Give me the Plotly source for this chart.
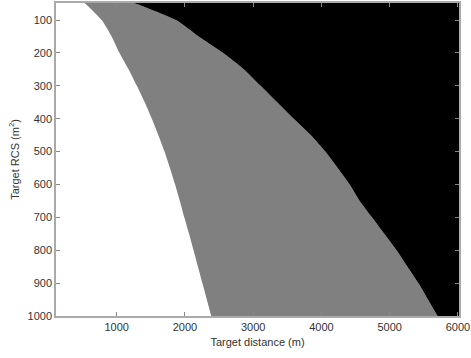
import plotly.graph_objects as go

# Target RCS values (m^2) at which the region boundaries were read
rcs = [50, 100, 150, 200, 250, 300, 350, 400, 450, 500, 550, 600,
       650, 700, 750, 800, 850, 900, 950, 1000]
# Distance (m) where white region ends (white -> gray)
white_edge = [540, 780, 925, 1040, 1175, 1295, 1410, 1515, 1610, 1700, 1780, 1855,
              1925, 1990, 2060, 2125, 2190, 2255, 2320, 2385]
# Distance (m) where gray region ends (gray -> black)
gray_edge = [1280, 1870, 2200, 2560, 2865, 3108, 3350, 3593, 3846, 4056, 4238, 4413,
             4560, 4740, 4920, 5100, 5260, 5420, 5560, 5700]

x_min, x_max = 110, 6015
y_top, y_bot = 48, 1000

fig = go.Figure()

# gray region: between white edge and gray edge
gx = [white_edge[0] - 20] + white_edge + [white_edge[-1], gray_edge[-1]] + gray_edge[::-1] + [gray_edge[0] - 40]
gy = [y_top] + rcs + [y_bot, y_bot] + rcs[::-1] + [y_top]
fig.add_trace(go.Scatter(x=gx, y=gy, fill="toself", fillcolor="#808080",
                         line=dict(width=0, color="#808080", shape="spline", smoothing=0.6),
                         mode="lines", hoverinfo="skip", showlegend=False))

# black region: right of gray edge
bx = [gray_edge[0] - 40] + gray_edge + [gray_edge[-1], x_max + 50, x_max + 50]
by = [y_top] + rcs + [y_bot, y_bot, y_top]
fig.add_trace(go.Scatter(x=bx, y=by, fill="toself", fillcolor="#000000",
                         line=dict(width=0, color="#000000", shape="spline", smoothing=0.6),
                         mode="lines", hoverinfo="skip", showlegend=False))

axis_font = dict(family="Liberation Sans, Arial, sans-serif", size=11, color="#333333")

fig.update_layout(
    width=471, height=358,
    margin=dict(l=56, r=12, t=1, b=42),
    paper_bgcolor="white", plot_bgcolor="white",
    font=axis_font,
    xaxis=dict(range=[x_min, x_max], tickvals=[1000, 2000, 3000, 4000, 5000, 6000],
               ticks="inside", ticklen=4, tickcolor="#888888",
               showline=True, linecolor="#aaaaaa", linewidth=1.5, mirror="ticks",
               showgrid=False, zeroline=False,
               title=dict(text="Target distance (m)", font=axis_font, standoff=6)),
    yaxis=dict(range=[y_bot, y_top], tickvals=[100, 200, 300, 400, 500, 600, 700, 800, 900, 1000],
               ticks="inside", ticklen=4, tickcolor="#888888",
               showline=True, linecolor="#aaaaaa", linewidth=1.5, mirror="ticks",
               showgrid=False, zeroline=False,
               title=dict(text="Target RCS (m<sup>2</sup>)", font=axis_font, standoff=6)),
)

fig.write_html("out.html")
